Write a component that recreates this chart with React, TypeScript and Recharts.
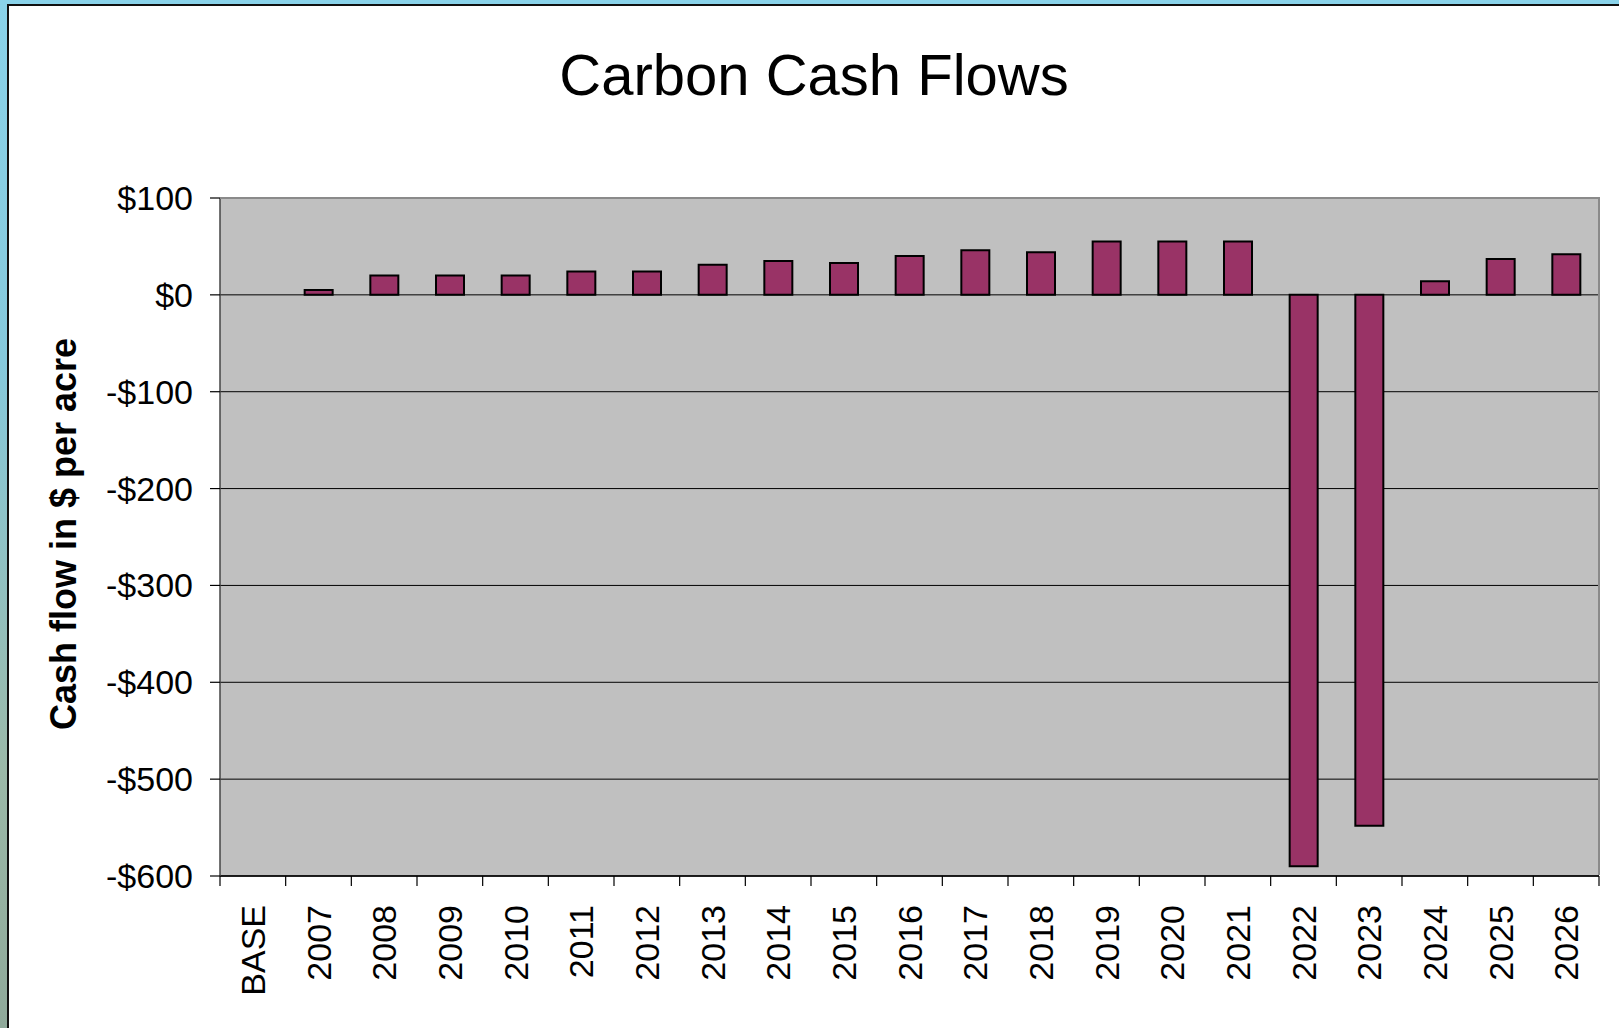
import React from 'react';
import { BarChart, Bar, XAxis, YAxis, CartesianGrid } from 'recharts';

// Carbon cash flow per acre, by year
const years = [
  'BASE', '2007', '2008', '2009', '2010', '2011', '2012', '2013', '2014', '2015', '2016',
  '2017', '2018', '2019', '2020', '2021', '2022', '2023', '2024', '2025', '2026',
];
const cashFlow: (number | null)[] = [
  null, 5, 20, 20, 20, 24, 24, 31, 35, 33, 40,
  46, 44, 55, 55, 55, -590, -548, 14, 37, 42,
];
const yTicks = [-600, -500, -400, -300, -200, -100, 0, 100];

const data = years.map((year, i) => ({ year, value: cashFlow[i] }));

const W = 1619;
const H = 1028;
const MARGIN = { top: 198, right: 20, left: 0, bottom: 32 };
const Y_AXIS_W = 220;
const X_AXIS_H = 120;
const PLOT_W = W - MARGIN.left - MARGIN.right - Y_AXIS_W;
const PLOT_H = H - MARGIN.top - MARGIN.bottom - X_AXIS_H;
const STEP = PLOT_W / years.length;
const FONT = '"Liberation Sans", Arial, sans-serif';

const money = (v: number) => (v < 0 ? `-$${Math.abs(v)}` : `$${v}`);

// Excel-style category axis: tick marks sit between categories, labels read upward
const YearTick = (props: any) => {
  const { x, y, payload } = props;
  const last = payload.value === years[years.length - 1];
  return (
    <g>
      <line x1={x - STEP / 2} x2={x - STEP / 2} y1={y} y2={y + 10} stroke="#000" strokeWidth={1.2} />
      {last && <line x1={x + STEP / 2} x2={x + STEP / 2} y1={y} y2={y + 10} stroke="#000" strokeWidth={1.2} />}
      <text
        transform={`translate(${x},${y + 29}) rotate(-90)`}
        textAnchor="end"
        dominantBaseline="central"
        fontSize={34}
        fontFamily={FONT}
        fill="#000"
      >
        {payload.value}
      </text>
    </g>
  );
};

export default function App() {
  return (
    <div
      style={{
        position: 'absolute',
        left: 0,
        top: 0,
        width: W,
        height: H,
        overflow: 'hidden',
        background: 'linear-gradient(180deg, #8ad3ea 0%, #86c9dc 35%, #9bb9a8 75%, #8fa99a 100%)',
      }}
    >
      <div
        style={{
          position: 'absolute',
          left: 7,
          top: 4,
          width: W,
          height: H,
          background: '#fff',
          borderLeft: '2px solid #111',
          borderTop: '2px solid #111',
          boxSizing: 'border-box',
        }}
      />
      <div style={{ position: 'absolute', left: 0, top: 0 }}>
        <BarChart width={W} height={H} data={data} margin={MARGIN}>
          <CartesianGrid vertical={false} stroke="#000" strokeWidth={1} fill="#c0c0c0" fillOpacity={1} />
          <XAxis
            dataKey="year"
            height={X_AXIS_H}
            interval={0}
            tickSize={0}
            tickMargin={0}
            tickLine={false}
            axisLine={{ stroke: '#000', strokeWidth: 1.5 }}
            tick={<YearTick />}
          />
          <YAxis
            width={Y_AXIS_W}
            domain={[-600, 100]}
            ticks={yTicks}
            interval={0}
            tickFormatter={money}
            tickSize={10}
            tickMargin={17}
            tickLine={{ stroke: '#000', strokeWidth: 1.2 }}
            axisLine={{ stroke: '#444', strokeWidth: 1.5 }}
            tick={{ fill: '#000', fontSize: 34, fontFamily: FONT }}
          />
          <Bar
            dataKey="value"
            barSize={28}
            fill="#993366"
            stroke="#000"
            strokeWidth={2}
            isAnimationActive={false}
          />
        </BarChart>
      </div>
      {/* gray frame on the top and right of the plot area */}
      <div
        style={{
          position: 'absolute',
          left: MARGIN.left + Y_AXIS_W,
          top: MARGIN.top - 1,
          width: PLOT_W + 1,
          height: PLOT_H,
          borderTop: '2px solid #8a8a8a',
          borderRight: '2px solid #8a8a8a',
          boxSizing: 'border-box',
          pointerEvents: 'none',
        }}
      />
      <div
        style={{
          position: 'absolute',
          left: 314,
          top: 46,
          width: 1000,
          textAlign: 'center',
          fontFamily: FONT,
          fontSize: 58,
          lineHeight: 1,
          color: '#000',
        }}
      >
        Carbon Cash Flows
      </div>
      <div
        style={{
          position: 'absolute',
          left: 64 - 300,
          top: 534 - 20,
          width: 600,
          height: 40,
          lineHeight: '40px',
          textAlign: 'center',
          transform: 'rotate(-90deg)',
          fontFamily: FONT,
          fontWeight: 'bold',
          fontSize: 36,
          color: '#000',
        }}
      >
        Cash flow in $ per acre
      </div>
    </div>
  );
}
